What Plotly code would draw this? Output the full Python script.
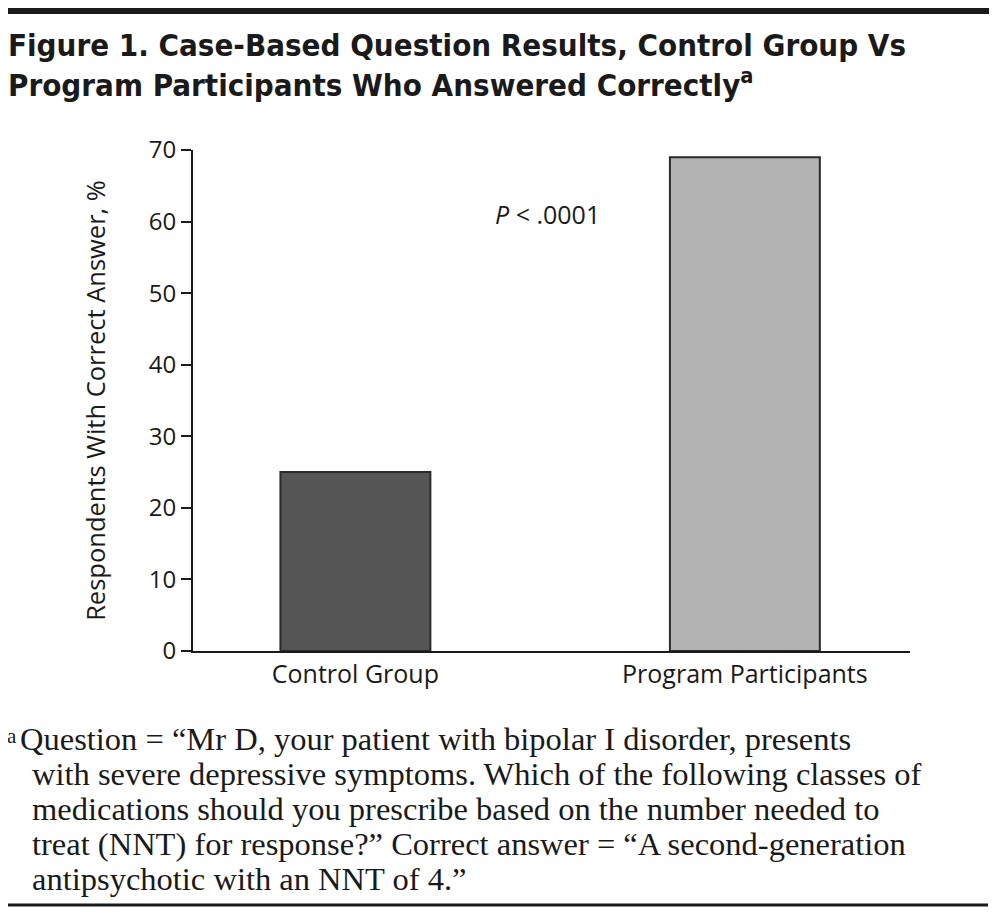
import plotly.graph_objects as go

categories = ["Control Group", "Program Participants"]
values = [25, 69]
bar_colors = ["#555555", "#b3b3b3"]
y_ticks = [0, 10, 20, 30, 40, 50, 60, 70]

title_lines = ["Figure 1. Case-Based Question Results, Control Group Vs",
               "Program Participants Who Answered Correctly<sup>a</sup>"]
note_lines = [
    "Question = “Mr D, your patient with bipolar I disorder, presents",
    "with severe depressive symptoms. Which of the following classes of",
    "medications should you prescribe based on the number needed to",
    "treat (NNT) for response?” Correct answer = “A second-generation",
    "antipsychotic with an NNT of 4.”",
]

OFF = 8  # browser body margin
W, H = 999 - OFF, 916 - OFF
L, R, T, B = 193 - OFF, 910 - OFF, 150 - OFF, 651 - OFF
INK = "#1a1a1a"

def px(x):
    return (x - OFF - L) / (R - L)

def py(y):
    return (B - (y - OFF)) / (B - T)

fig = go.Figure()
fig.add_trace(go.Bar(
    x=[0, 1], y=values, width=0.385,
    marker=dict(color=bar_colors, line=dict(color="#2a2a2a", width=2)),
    hoverinfo="skip",
))

fig.update_layout(
    width=W, height=H,
    margin=dict(l=L, r=W - R, t=T, b=H - B, pad=0),
    paper_bgcolor="white", plot_bgcolor="white",
    showlegend=False,
    font=dict(family="Open Sans", color=INK),
    xaxis=dict(range=[-0.417, 1.424], tickmode="array", tickvals=[0, 1],
               ticktext=categories, showgrid=False, zeroline=False,
               showline=True, linecolor=INK, linewidth=2, ticks="",
               tickfont=dict(size=25, family="Open Sans", color=INK)),
    yaxis=dict(range=[0, 70], tickvals=y_ticks, showgrid=False, zeroline=False,
               showline=True, linecolor=INK, linewidth=2,
               ticks="outside", ticklen=10, tickwidth=2, tickcolor=INK,
               tickfont=dict(size=24, family="Open Sans", color=INK),
               title=dict(text="Respondents With Correct Answer, %",
                          font=dict(size=25.5, family="Open Sans", color=INK),
                          standoff=36)),
)

fig.add_annotation(x=0.494, y=61, xref="x", yref="y", text="<i>P</i> < .0001",
                   showarrow=False, font=dict(size=25, family="Open Sans", color=INK))

# title
for i, line in enumerate(title_lines):
    fig.add_annotation(x=px(6), y=py(45 + 38 * i), xref="paper", yref="paper",
                       xanchor="left", yanchor="middle", align="left",
                       text="<b>" + line + "</b>", showarrow=False,
                       font=dict(size=31, family="DejaVu Sans Condensed", color=INK))

# footnote
fig.add_annotation(x=px(5), y=py(722), xref="paper", yref="paper", xanchor="left",
                   yanchor="top", text="a", showarrow=False,
                   font=dict(size=21, family="Liberation Serif", color=INK))
for i, line in enumerate(note_lines):
    x0 = 18 if i == 0 else 30
    fig.add_annotation(x=px(x0), y=py(739 + 35 * i), xref="paper", yref="paper",
                       xanchor="left", yanchor="middle", text=line, showarrow=False,
                       font=dict(size=32.5, family="Liberation Serif", color=INK))

# rules
fig.add_shape(type="rect", xref="paper", yref="paper", x0=px(5), x1=px(989),
              y0=py(5), y1=py(14), fillcolor=INK, line_width=0)
fig.add_shape(type="line", xref="paper", yref="paper", x0=px(8), x1=px(988),
              y0=py(905), y1=py(905), line=dict(color=INK, width=3))

fig.write_html("out.html")
